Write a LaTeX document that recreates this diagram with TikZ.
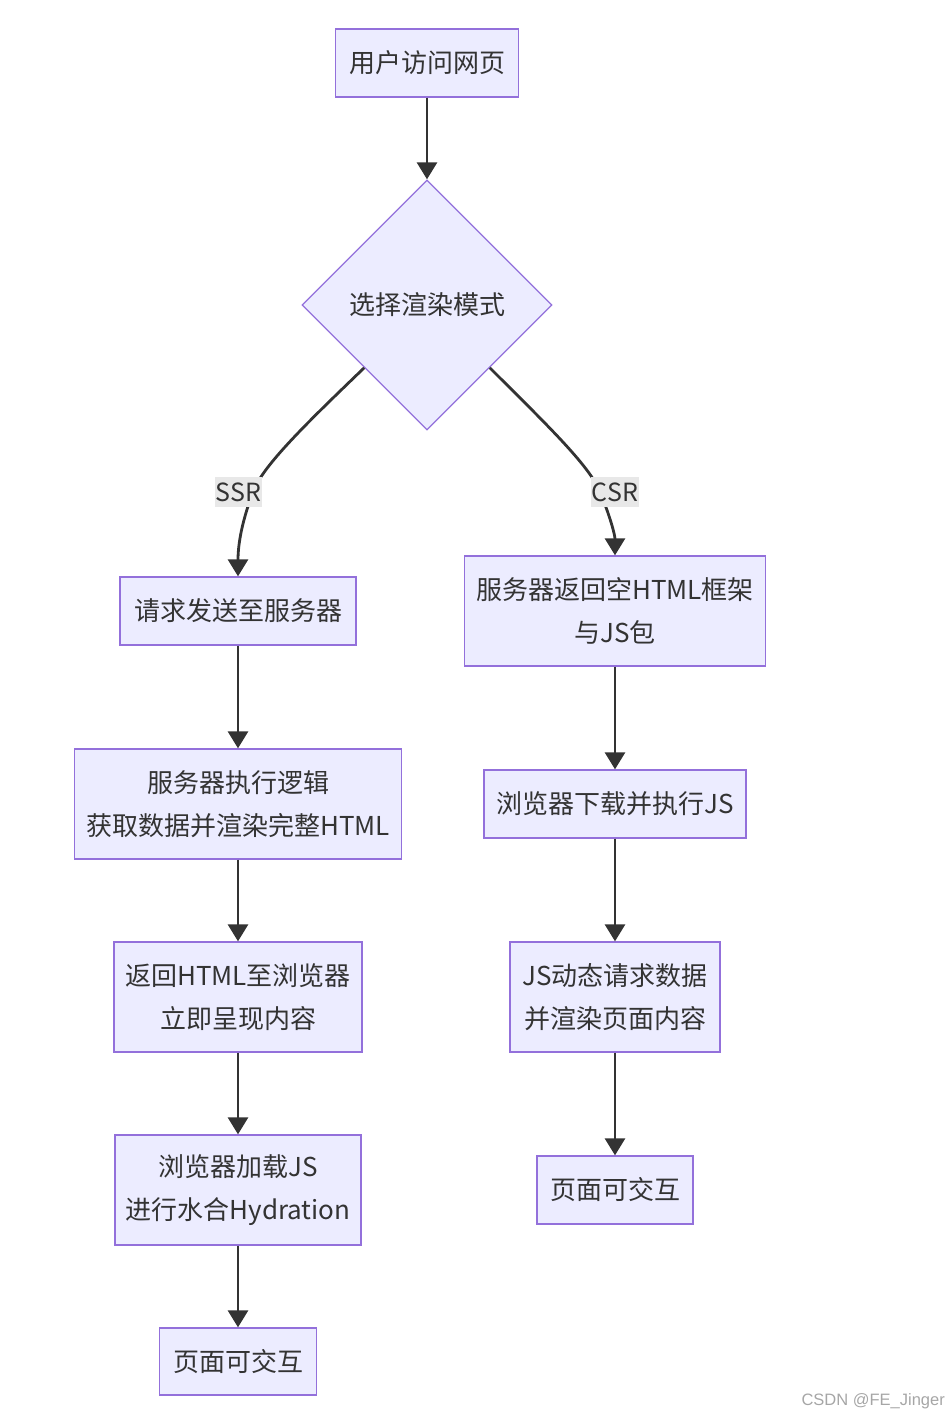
\documentclass[tikz,border=0pt]{standalone}
\usepackage{fontspec}
\setmainfont{Noto Sans CJK SC}
\newfontfamily\wmfont{Liberation Sans}
\usetikzlibrary{shapes.geometric,arrows.meta}
\definecolor{nfill}{HTML}{ECECFF}
\definecolor{nstroke}{HTML}{9370DB}
\definecolor{edgec}{HTML}{333333}
\definecolor{lblfill}{HTML}{E8E8E8}
\tikzset{
  box/.style={draw=nstroke, fill=nfill, line width=1.3pt, rectangle, inner sep=0pt,
    align=center, text=edgec, font=\fontsize{26}{43}\selectfont},
  decision/.style={draw=nstroke, fill=nfill, line width=1.3pt, diamond, shape aspect=1,
    inner sep=0pt, minimum width=250pt, minimum height=250pt, text=edgec,
    font=\fontsize{26}{43}\selectfont},
  edge/.style={draw=edgec, line width=2.8pt, -{Triangle[width=20pt,length=17pt]}},
  lbl/.style={fill=lblfill, text=edgec, inner xsep=1pt, inner ysep=0pt, minimum height=30pt,
    font=\fontsize{25}{30}\selectfont}
}
\begin{document}
\begin{tikzpicture}[x=1pt,y=-1pt]
\useasboundingbox (0,0) rectangle (948,1417);
% nodes
\node[box, minimum width=183pt, minimum height=68pt] (a) at (427,63) {用户访问网页};
\node[decision] (d) at (427,305) {选择渲染模式};
\node[box, minimum width=236pt, minimum height=68pt] (b1) at (238,611) {请求发送至服务器};
\node[box, minimum width=327pt, minimum height=110pt] (b2) at (238,804) {服务器执行逻辑\\获取数据并渲染完整HTML};
\node[box, minimum width=248pt, minimum height=110pt] (b3) at (238,997) {返回HTML至浏览器\\立即呈现内容};
\node[box, minimum width=246pt, minimum height=110pt] (b4) at (238,1190) {浏览器加载JS\\进行水合Hydration};
\node[box, minimum width=157pt, minimum height=67pt] (b5) at (238,1361.5) {页面可交互};
\node[box, minimum width=301pt, minimum height=110pt] (c1) at (615,611) {服务器返回空HTML框架\\与JS包};
\node[box, minimum width=262pt, minimum height=68pt] (c2) at (615,804) {浏览器下载并执行JS};
\node[box, minimum width=210pt, minimum height=110pt] (c3) at (615,997) {JS动态请求数据\\并渲染页面内容};
\node[box, minimum width=156pt, minimum height=68pt] (c4) at (615,1190) {页面可交互};
% edges
\draw[edge] (a.south) -- (d.north);
\draw[edge] (d.south west) .. controls (310,420) and (262,466) .. (253,492)
  .. controls (244,516) and (238,540) .. (b1.north);
\draw[edge] (d.south east) .. controls (545,423) and (590,466) .. (600,492)
  .. controls (610,516) and (615,535) .. (c1.north);
\draw[edge] (b1.south) -- (b2.north);
\draw[edge] (b2.south) -- (b3.north);
\draw[edge] (b3.south) -- (b4.north);
\draw[edge] (b4.south) -- (b5.north);
\draw[edge] (c1.south) -- (c2.north);
\draw[edge] (c2.south) -- (c3.north);
\draw[edge] (c3.south) -- (c4.north);
% edge labels
\node[lbl] (ssr) at (238.5,492) {SSR};
\node[lbl] (csr) at (615,492) {CSR};
% watermark
\node[anchor=east, text=black!35, font=\wmfont\fontsize{16.5}{18}\selectfont, inner sep=0pt] (wm) at (945,1401) {CSDN @FE\_Jinger};
\end{tikzpicture}
\end{document}
